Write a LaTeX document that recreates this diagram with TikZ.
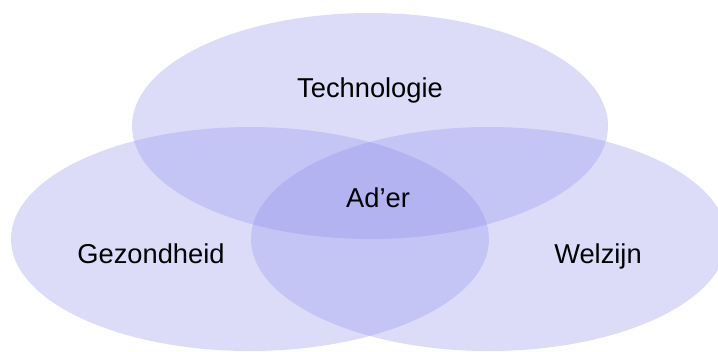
\documentclass[tikz,border=0pt]{standalone}
\usepackage{fontspec}
\setmainfont{Liberation Sans}
\definecolor{vennfill}{RGB}{140,140,236}
\begin{document}
\begin{tikzpicture}[x=1pt,y=-1pt,
  venn/.style={fill=vennfill,fill opacity=0.3},
  lbl/.style={anchor=base,font=\fontsize{27.3}{32}\selectfont,text=black,inner sep=0pt}]
\useasboundingbox (0,0) rectangle (718,351);
\begin{scope}
\clip (0,0) rectangle (718,351);
\fill[venn] (370,126) ellipse [x radius=238,y radius=113];
\fill[venn] (250,239) ellipse [x radius=239,y radius=112];
\fill[venn] (489,239) ellipse [x radius=238,y radius=112];
\end{scope}
\node[lbl] (tech) at (370,97) {Technologie};
\node[lbl] (ader) at (378,207) {Ad’er};
\node[lbl] (gez) at (151,263) {Gezondheid};
\node[lbl] (wel) at (598,263) {Welzijn};
\end{tikzpicture}
\end{document}
